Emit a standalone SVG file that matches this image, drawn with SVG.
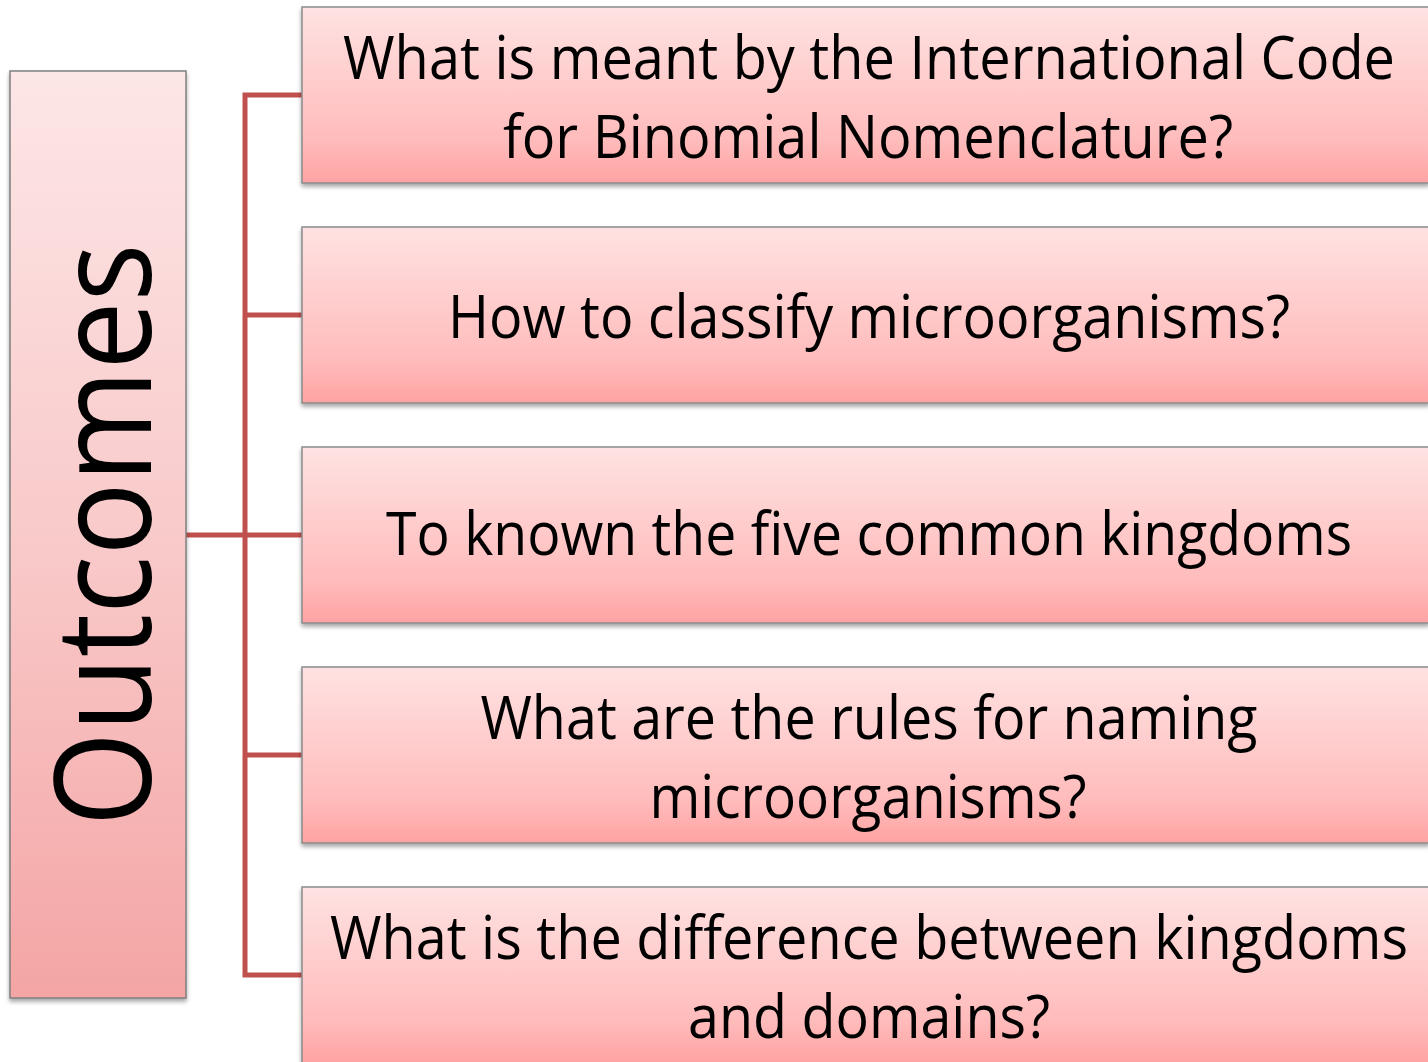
<svg xmlns="http://www.w3.org/2000/svg" width="1428" height="1062" viewBox="0 0 1428 1062">
<defs>
<linearGradient id="gLeft" x1="0" y1="0" x2="0" y2="1">
<stop offset="0" stop-color="#fde6e6"/>
<stop offset="0.5" stop-color="#f9caca"/>
<stop offset="1" stop-color="#f4a5a5"/>
</linearGradient>
<linearGradient id="gBox" x1="0" y1="0" x2="0" y2="1">
<stop offset="0" stop-color="#ffe2e2"/>
<stop offset="0.75" stop-color="#ffbcbc"/>
<stop offset="1" stop-color="#ffa3a3"/>
</linearGradient>
<filter id="shadow" x="-5%" y="-5%" width="110%" height="115%">
<feDropShadow dx="0" dy="3" stdDeviation="2" flood-color="#000" flood-opacity="0.35"/>
</filter>
</defs>
<style>
.box{fill:url(#gBox);stroke:#8a8a8a;stroke-width:1.5;filter:url(#shadow)}
.lbox{fill:url(#gLeft);stroke:#7f7f7f;stroke-width:1.5;filter:url(#shadow)}
.t{font-family:"Open Sans","Noto Sans","Liberation Sans",sans-serif;font-size:60px;fill:#000;text-anchor:middle}
.big{font-family:"Open Sans","Noto Sans","Liberation Sans",sans-serif;font-size:133px;fill:#000;text-anchor:middle}
.conn{fill:none;stroke:#c0504d;stroke-width:5}
</style>
<rect width="1428" height="1062" fill="#ffffff"/>
<g id="connectors">
<path class="conn" d="M302,95 H245 V975 H302"/>
<path class="conn" d="M186,535 H302"/>
<path class="conn" d="M245,315 H302"/>
<path class="conn" d="M245,755 H302"/>
</g>
<g id="outcomes">
<rect class="lbox" x="10" y="71" width="176" height="927"/>
<text class="big" transform="translate(151,535) rotate(-90)" x="0" y="0" textLength="583" lengthAdjust="spacingAndGlyphs">Outcomes</text>
</g>
<g id="node1">
<rect class="box" x="302" y="7" width="1127" height="176"/>
<text class="t" x="869" y="79" textLength="1052" lengthAdjust="spacingAndGlyphs">What is meant by the International Code</text>
<text class="t" x="868" y="158" textLength="730" lengthAdjust="spacingAndGlyphs">for Binomial Nomenclature?</text>
</g>
<g id="node2">
<rect class="box" x="302" y="227" width="1127" height="176"/>
<text class="t" x="869" y="338" textLength="842" lengthAdjust="spacingAndGlyphs">How to classify microorganisms?</text>
</g>
<g id="node3">
<rect class="box" x="302" y="447" width="1127" height="176"/>
<text class="t" x="869" y="555" textLength="966" lengthAdjust="spacingAndGlyphs">To known the five common kingdoms</text>
</g>
<g id="node4">
<rect class="box" x="302" y="667" width="1127" height="176"/>
<text class="t" x="869" y="739" textLength="777" lengthAdjust="spacingAndGlyphs">What are the rules for naming</text>
<text class="t" x="868" y="818" textLength="437" lengthAdjust="spacingAndGlyphs">microorganisms?</text>
</g>
<g id="node5">
<rect class="box" x="302" y="887" width="1127" height="176"/>
<text class="t" x="869" y="959" textLength="1078" lengthAdjust="spacingAndGlyphs">What is the difference between kingdoms</text>
<text class="t" x="869" y="1038" textLength="362" lengthAdjust="spacingAndGlyphs">and domains?</text>
</g>
</svg>
